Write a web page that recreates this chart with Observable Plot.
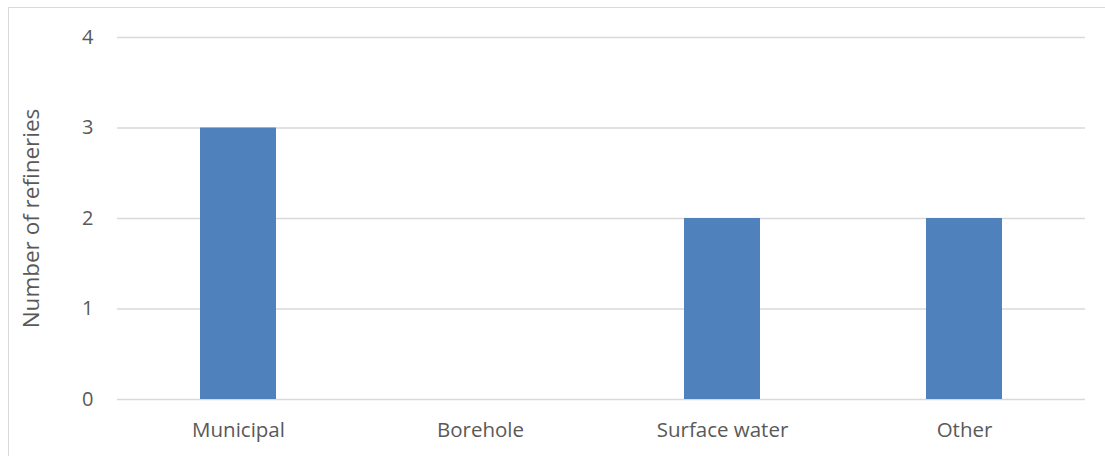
<!DOCTYPE html>
<html>
<head>
<meta charset="utf-8">
<script src="https://cdn.jsdelivr.net/npm/d3@7"></script>
<script src="https://cdn.jsdelivr.net/npm/@observablehq/plot@0.6"></script>
<style>
  html, body { margin: 0; padding: 0; background: #fff; overflow: hidden; }
  #frame {
    position: absolute; left: 8px; top: 7px; width: 1200px; height: 600px;
    border: 1px solid #d9d9d9; box-sizing: border-box;
  }
  #chart { position: absolute; left: 0; top: 0; }
</style>
</head>
<body>
<div id="frame"></div>
<div id="chart"></div>
<script>
// Water source used by refineries
const sources = ["Municipal", "Borehole", "Surface water", "Other"];
const refineries = [3, 0, 2, 2];
const yTicks = [0, 1, 2, 3, 4];

const data = sources.map((s, i) => ({source: s, count: refineries[i]}));

const font = "'Open Sans', 'Liberation Sans', sans-serif";
const grey = "#595959";

const chart = Plot.plot({
  width: 1105,
  height: 456,
  marginLeft: 117,
  marginRight: 20,
  marginTop: 37,
  marginBottom: 57,
  style: {fontFamily: font, fontSize: "20px", color: grey, background: "transparent"},
  x: {domain: sources, paddingInner: 0.686, paddingOuter: 0.343},
  y: {domain: [0, 4]},
  marks: [
    Plot.ruleY(yTicks, {stroke: "#d9d9d9", strokeWidth: 1.5}),
    Plot.barY(data, {x: "source", y: "count", fill: "#4f81bd"}),
    Plot.axisX({tickSize: 0, tickPadding: 23, label: null, fill: grey, fontSize: 20.5}),
    Plot.axisY({ticks: yTicks, tickSize: 0, tickPadding: 24, tickFormat: d => String(d),
      label: "Number of refineries", labelAnchor: "center", labelArrow: "none",
      labelOffset: 94, fill: grey, fontSize: 20})
  ]
});
document.getElementById("chart").appendChild(chart);
// larger axis title
chart.querySelectorAll("g[aria-label='y-axis label'] text").forEach(t => t.setAttribute("font-size", "22.5"));
</script>
</body>
</html>
